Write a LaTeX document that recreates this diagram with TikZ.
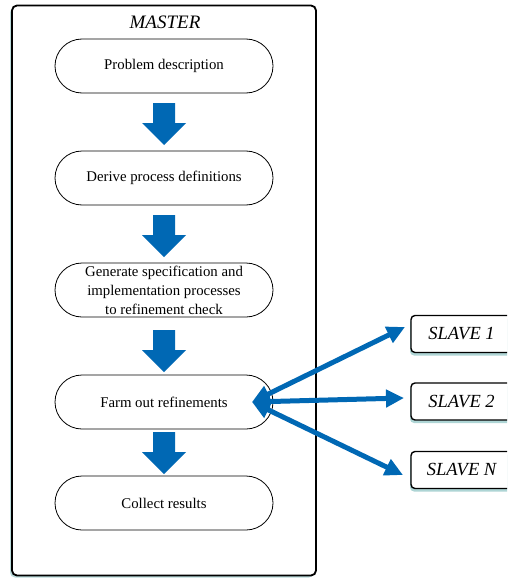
\documentclass[tikz,border=0pt]{standalone}
\usepackage{fontspec}
\setmainfont{Liberation Serif}
\usetikzlibrary{shadows,arrows.meta,calc}
\definecolor{ablue}{RGB}{0,104,180}
\definecolor{shadecol}{RGB}{140,195,195}
\tikzset{
  blockdown/.pic={\fill[ablue] (-11,0) -- (11,0) -- (11,20) -- (22,20) -- (0,42) -- (-22,20) -- (-11,20) -- cycle;}
}
\begin{document}
\begin{tikzpicture}[x=1pt,y=-1pt,
  stadium/.style={draw, line width=0.8pt, rounded corners=27pt, minimum width=218pt, minimum height=54pt,
    inner sep=0pt, fill=white, font=\fontsize{14.8}{19}\selectfont, align=center},
  masterbox/.style={draw, line width=1.8pt, rounded corners=5pt, fill=white,
    drop shadow={shadow xshift=-2pt, shadow yshift=-2pt, fill=shadecol, opacity=0.6}},
  slavebox/.style={draw, line width=1.4pt, rounded corners=4pt, minimum width=101pt, minimum height=37pt,
    fill=white, drop shadow={shadow xshift=-1pt, shadow yshift=-3pt, fill=shadecol, opacity=0.7},
    font=\fontsize{18.5}{22}\selectfont\itshape},
  link/.style={ablue, line width=5pt, {Triangle[length=18pt,width=17pt]}-{Triangle[length=18pt,width=17pt]}},
]
\clip (0,0) rectangle (507,578);
\useasboundingbox (0,0) rectangle (507,578);

\node[masterbox, minimum width=304pt, minimum height=570pt] (master) at (164,290.5) {};
\node[font=\fontsize{19}{22}\selectfont\itshape] (mlabel) at (165,22) {MASTER};

\node[stadium] (p1) at (164,66) {Problem description};
\node[stadium] (p2) at (164,178) {Derive process definitions};
\node[stadium] (p3) at (164,290) {Generate specification and\\implementation processes\\to refinement check};
\node[stadium] (p4) at (164,402) {Farm out refinements};
\node[stadium] (p5) at (164,503) {Collect results};

\pic at (164,103) {blockdown};
\pic at (164,215) {blockdown};
\pic at (164,330) {blockdown};
\pic at (164,432) {blockdown};

\node[slavebox] (s1) at (461.5,334) {SLAVE 1};
\node[slavebox] (s2) at (461.5,401.5) {SLAVE 2};
\node[slavebox] (sn) at (461.5,470) {SLAVE N};

\coordinate (hub) at (252,402);
\coordinate (t1) at (405,327);
\coordinate (t2) at (404,398);
\coordinate (tn) at (403,475);
\draw[link] (hub) -- (t1);
\draw[link] (hub) -- (t2);
\draw[link] (hub) -- (tn);
\end{tikzpicture}
\end{document}
